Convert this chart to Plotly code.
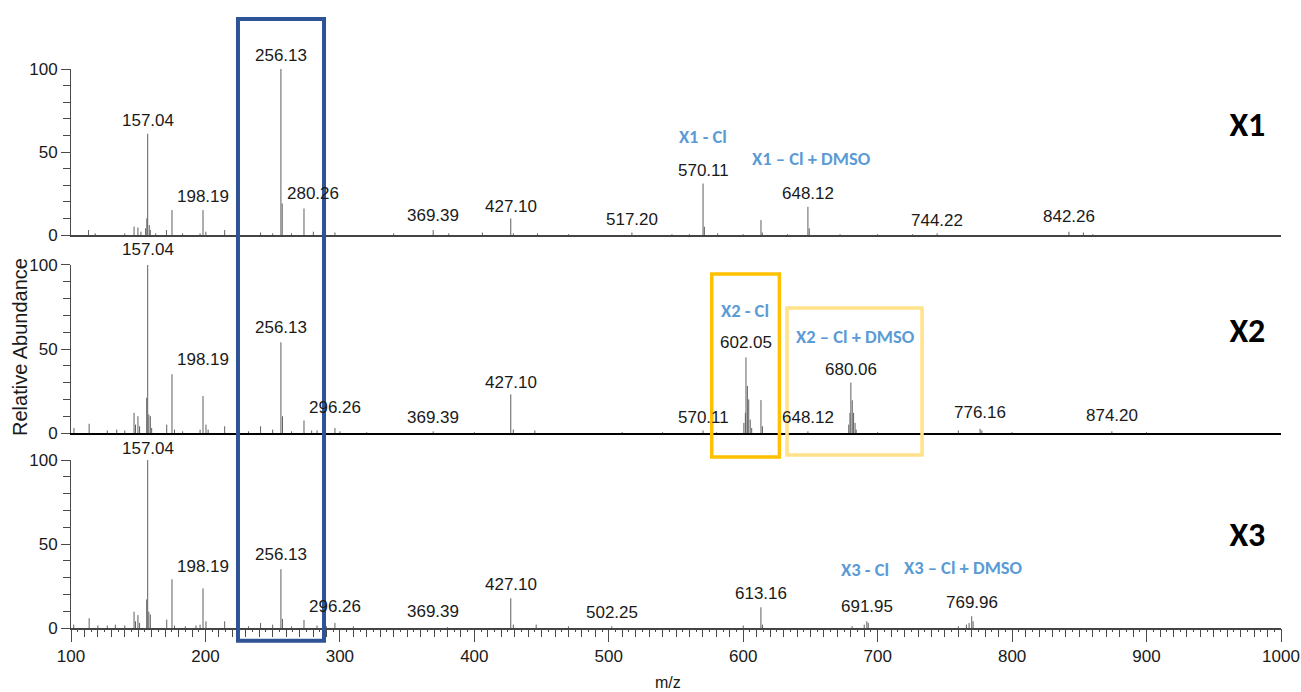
import plotly.graph_objects as go

# ---------------- data ----------------
# Panel X1 stick spectrum (m/z, relative abundance)
x1_mz = [113.0, 118.0, 140.0, 146.9, 149.8, 152.0, 155.5, 156.4, 157.04, 158.2, 159.0, 163.0,
         171.0, 175.1, 183.0, 196.0, 198.19, 200.3, 214.3, 241.0, 250.0, 256.13, 257.1, 264.0,
         273.3, 280.26, 287.0, 296.3, 340.0, 369.39, 381.0, 406.0, 427.10, 429.0, 447.0, 470.0,
         517.20, 547.0, 560.0, 570.11, 571.1, 581.0, 600.0, 613.2, 614.2, 633.0, 648.12, 649.1,
         672.0, 700.0, 726.0, 744.22, 842.26, 853.0, 860.0]
x1_int = [3, 1, 1, 5, 4.5, 2, 4, 10, 61, 6, 3, 1,
          3, 15, 1, 1, 15, 2, 3, 1.5, 1, 100, 19, 1,
          16, 2, 2, 1.5, 1, 3, 1, 1.5, 10, 1, 1, 0.5,
          1.5, 0.5, 0.5, 31, 5, 1, 0.5, 9, 1.5, 0.5, 17, 4,
          0.5, 0.5, 0.5, 1, 2, 1.5, 0.5]

# Panel X2
x2_mz = [102.2, 113.5, 127.0, 134.0, 140.0, 146.9, 148.0, 149.8, 151.0, 156.3, 157.04, 157.9,
         159.0, 160.0, 171.2, 175.1, 177.0, 183.0, 196.0, 198.19, 200.4, 202.0, 214.3, 232.0,
         241.0, 250.0, 256.13, 257.3, 264.0, 273.3, 279.0, 283.0, 296.3, 300.0, 320.0, 369.39,
         400.0, 427.10, 429.0, 445.0, 510.0, 540.0, 570.11, 580.0, 600.5, 601.6, 602.05, 603.1,
         604.1, 605.2, 606.3, 613.2, 614.3, 648.12, 678.5, 679.4, 680.06, 681.1, 682.1, 683.2,
         684.0, 700.0, 760.0, 776.16, 777.5, 800.0, 874.20, 900.0]
x2_int = [3, 5.5, 1.5, 2, 1.5, 12, 5, 10, 4, 21, 100, 11,
          10, 3, 5, 35, 2, 1, 2, 22, 5, 2, 4, 1,
          4, 2, 54, 10, 1, 7.5, 1.5, 1.5, 3, 1, 0.5, 1,
          0.5, 23, 2, 1.5, 0.5, 0.5, 1.5, 0.5, 6, 12, 45, 28,
          20, 8, 3, 19.6, 4, 1, 5, 12, 30, 19.5, 12, 6,
          2, 0.5, 1.5, 2.5, 1.5, 0.5, 1, 0.5]

# Panel X3
x3_mz = [102.0, 113.5, 120.0, 127.0, 133.0, 140.0, 146.9, 148.0, 149.8, 151.0, 156.3, 157.04,
         157.9, 159.0, 171.2, 175.1, 177.0, 185.0, 193.0, 196.0, 198.19, 200.4, 214.3, 232.0,
         241.0, 250.0, 256.13, 257.3, 264.0, 273.3, 283.0, 290.0, 296.3, 310.0, 380.0, 427.10,
         429.0, 446.0, 470.0, 502.25, 600.0, 613.16, 614.3, 681.0, 690.0, 691.95, 693.0, 760.0,
         766.0, 768.0, 769.96, 771.0]
x3_int = [2, 5.8, 1.5, 1.5, 2, 1.5, 9.7, 4, 7.7, 3, 17, 100,
          9.7, 8, 5, 29, 1.5, 1, 1.5, 2, 23.6, 4, 4, 1,
          3, 2, 35, 5.4, 1, 4.8, 1.5, 1, 3, 1, 0.5, 17.7,
          2, 2, 1, 1, 1.5, 12.3, 2, 1, 2, 4, 3, 1,
          2, 3, 7, 4]

# Peak labels (text) and the abundance level at which each label sits
x1_labels = ["157.04", "198.19", "256.13", "280.26", "369.39", "427.10", "517.20",
             "570.11", "648.12", "744.22", "842.26"]
x1_label_y = [69, 23, 108, 25, 12, 17, 9.6, 39, 25, 9, 11]

x2_labels = ["157.04", "198.19", "256.13", "296.26", "369.39", "427.10", "570.11",
             "602.05", "648.12", "680.06", "776.16", "874.20"]
x2_label_y = [109, 43.5, 62.5, 15, 9.5, 30, 9.5, 53.6, 9.5, 38, 12, 10.7]

x3_labels = ["157.04", "198.19", "256.13", "296.26", "369.39", "427.10", "502.25",
             "613.16", "691.95", "769.96"]
x3_label_y = [107, 36.5, 43.5, 12.7, 9.7, 25.6, 9, 20.6, 13, 15]

# Species annotations (blue)
x1_species = ["X1 - Cl", "X1 \u2013 Cl + DMSO"]
x1_species_mz = [570.0, 650.5]
x1_species_y = [58, 45]
x2_species = ["X2 - Cl", "X2 \u2013 Cl + DMSO"]
x2_species_mz = [601.3, 683.2]
x2_species_y = [71.6, 56.5]
x3_species = ["X3 - Cl", "X3 \u2013 Cl + DMSO"]
x3_species_mz = [690.6, 763.5]
x3_species_y = [34, 35]

panel_names = ["X1", "X2", "X3"]
panel_name_mz = 975
panel_name_y = [65, 59.5, 54]

# highlighted m/z windows
blue_window = [224.2, 288.2]
orange_window = [576.6, 626.9]
light_window = [632.6, 733.0]

MZ_RANGE = [100, 1000]
Y_RANGE = [0, 100]

# ---------------- styling ----------------
NUM_FONT = "Liberation Sans, Arial, sans-serif"
LBL_FONT = "Carlito, Lato, Open Sans, sans-serif"
STICK = "#5f5f5f"
AXC = "#4a4a4a"
TXT = "#1a1a1a"
BLUE_TXT = "#5B9BD5"

panels = [
    (x1_mz, x1_int, x1_labels, x1_label_y, x1_species, x1_species_mz, x1_species_y),
    (x2_mz, x2_int, x2_labels, x2_label_y, x2_species, x2_species_mz, x2_species_y),
    (x3_mz, x3_int, x3_labels, x3_label_y, x3_species, x3_species_mz, x3_species_y),
]
domains = [[0.703, 1.0], [0.3488, 0.6494], [0.0, 0.3005]]


def sticks(mz, inten):
    xs, ys = [], []
    for m, h in zip(mz, inten):
        xs += [m, m, None]
        ys += [0, h, None]
    return xs, ys


def yfrac(v):
    return (v - Y_RANGE[0]) / (Y_RANGE[1] - Y_RANGE[0])


fig = go.Figure()
for i, (mz, it, labs, laby, sp, spx, spy) in enumerate(panels):
    xa = "x" if i == 0 else f"x{i+1}"
    ya = "y" if i == 0 else f"y{i+1}"
    xs, ys = sticks(mz, it)
    fig.add_trace(go.Scatter(x=xs, y=ys, mode="lines", xaxis=xa, yaxis=ya,
                             line=dict(color=STICK, width=1), hoverinfo="skip"))
    # numeric peak labels (annotations relative to the axis domain so labels above 100 show)
    for t, yv in zip(labs, laby):
        fig.add_annotation(x=float(t), y=yfrac(yv), xref=xa, yref=f"{ya} domain", text=t,
                           showarrow=False, xanchor="center", yanchor="middle",
                           font=dict(family=NUM_FONT, size=17, color=TXT))
    fig.add_trace(go.Scatter(x=spx, y=spy, text=sp, mode="text", textposition="middle center",
                             xaxis=xa, yaxis=ya, cliponaxis=False,
                             textfont=dict(family=LBL_FONT, size=18.5, color=BLUE_TXT, weight="bold"),
                             hoverinfo="skip"))
    fig.add_trace(go.Scatter(x=[panel_name_mz], y=[panel_name_y[i]], text=[panel_names[i]],
                             mode="text", textposition="middle center", xaxis=xa, yaxis=ya,
                             cliponaxis=False,
                             textfont=dict(family=LBL_FONT, size=34, color="black", weight="bold"),
                             hoverinfo="skip"))

# dummy trace to activate fine tick overlay axis
fig.add_trace(go.Scatter(x=[None], y=[None], xaxis="x4", yaxis="y3", mode="markers",
                         hoverinfo="skip"))

yax = dict(range=Y_RANGE, showline=True, linecolor=AXC, linewidth=1, ticks="outside",
           tickmode="array", tickvals=[0, 50, 100], ticklen=9, tickcolor=AXC, tickwidth=1,
           minor=dict(tickmode="linear", tick0=0, dtick=10, ticklen=7, ticks="outside",
                      tickcolor=AXC, showgrid=False),
           showgrid=False, zeroline=False, fixedrange=True, automargin=False,
           tickfont=dict(family=NUM_FONT, size=17, color=TXT))

xbase = dict(range=MZ_RANGE, showgrid=False, zeroline=False, fixedrange=True, showline=True,
             automargin=False)

fig.update_layout(
    width=1301, height=692, autosize=False,
    margin=dict(l=71, r=20, t=69, b=64, autoexpand=False),
    paper_bgcolor="white", plot_bgcolor="white",
    showlegend=False,
    xaxis=dict(**xbase, anchor="y", linecolor="#444444", linewidth=1.5, ticks="",
               showticklabels=False),
    xaxis2=dict(**xbase, anchor="y2", linecolor="black", linewidth=2, ticks="",
                showticklabels=False),
    xaxis3=dict(**xbase, anchor="y3", linecolor="#444444", linewidth=1.5, ticks="outside",
                tickmode="array", tickvals=list(range(100, 1001, 100)), ticklen=12,
                tickcolor=AXC, tickwidth=1, ticklabeloverflow="allow",
                minor=dict(tickmode="linear", tick0=100, dtick=10, ticklen=7, ticks="outside",
                           tickcolor=AXC, showgrid=False),
                tickfont=dict(family=NUM_FONT, size=17, color=TXT)),
    xaxis4=dict(range=MZ_RANGE, overlaying="x3", anchor="y3", showgrid=False, zeroline=False,
                showline=False, ticks="outside", tickmode="linear", tick0=100, dtick=5,
                ticklen=3, tickcolor=AXC, showticklabels=False, fixedrange=True,
                automargin=False),
    yaxis=dict(**yax, domain=domains[0], anchor="x"),
    yaxis2=dict(**yax, domain=domains[1], anchor="x2"),
    yaxis3=dict(**yax, domain=domains[2], anchor="x3"),
)

# highlight boxes
fig.add_shape(type="rect", xref="x3", yref="paper", x0=blue_window[0], x1=blue_window[1],
              y0=-0.023, y1=1.0894, line=dict(color="#2F5496", width=4), fillcolor="rgba(0,0,0,0)")
fig.add_shape(type="rect", xref="x3", yref="paper", x0=orange_window[0], x1=orange_window[1],
              y0=0.306, y1=0.6333, line=dict(color="#FFC000", width=3.5), fillcolor="rgba(0,0,0,0)")
fig.add_shape(type="rect", xref="x3", yref="paper", x0=light_window[0], x1=light_window[1],
              y0=0.3095, y1=0.5725, line=dict(color="#FFE28A", width=3.5), fillcolor="rgba(0,0,0,0)")

# axis titles
fig.add_annotation(text="Relative Abundance", xref="paper", yref="paper", x=-0.042, y=0.503,
                   xanchor="center", yanchor="middle", textangle=-90, showarrow=False,
                   font=dict(family=NUM_FONT, size=20, color=TXT))
fig.add_annotation(text="m/z", xref="paper", yref="paper", x=0.493, y=-0.097,
                   xanchor="center", yanchor="middle", showarrow=False,
                   font=dict(family=NUM_FONT, size=16, color=TXT))

fig.write_html("out.html", config={"displayModeBar": False},
               post_script="document.body.style.margin='0';")
